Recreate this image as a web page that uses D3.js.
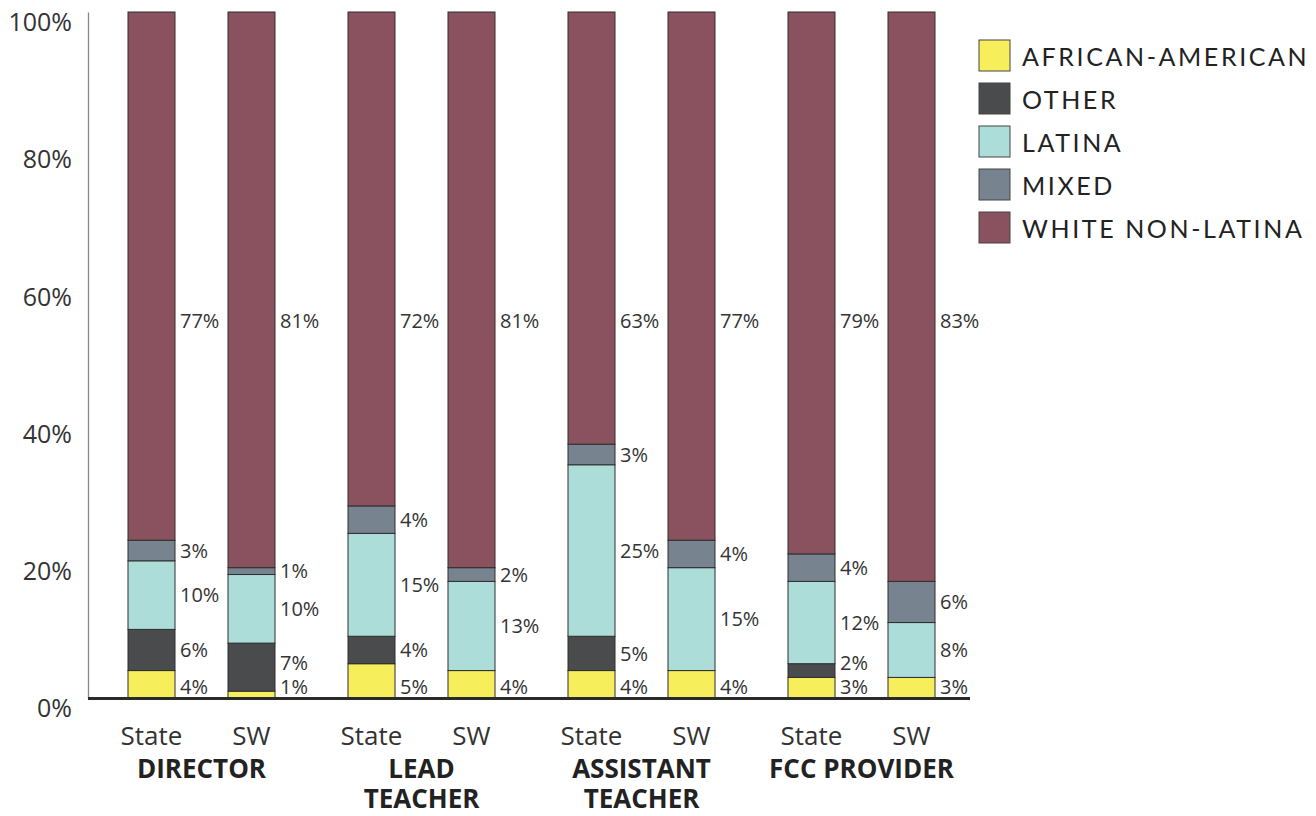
<!DOCTYPE html>
<html>
<head>
<meta charset="utf-8">
<script src="https://cdn.jsdelivr.net/npm/d3@7"></script>
<style>
  body { margin: 0; background: #fff; }
  svg { display: block; }
</style>
</head>
<body>
<svg id="chart"></svg>
<script>
// data
const groups = ['DIRECTOR', 'LEAD TEACHER', 'ASSISTANT TEACHER', 'FCC PROVIDER'];
const groupLines = [['DIRECTOR'], ['LEAD', 'TEACHER'], ['ASSISTANT', 'TEACHER'], ['FCC PROVIDER']];
const regions = ['State', 'SW'];
const races = ['AFRICAN-AMERICAN', 'OTHER', 'LATINA', 'MIXED', 'WHITE NON-LATINA'];
const raceColors = ['#f7ee5c', '#4a4b4d', '#acddd8', '#778490', '#89525e'];

// one entry per bar (State, SW for each group), values in the order of races
const africanAmerican = [4, 1, 5, 4, 4, 4, 3, 3];
const other           = [6, 7, 4, 0, 5, 0, 2, 0];
const latina          = [10, 10, 15, 13, 25, 15, 12, 8];
const mixed           = [3, 1, 4, 2, 3, 4, 4, 6];
const white           = [77, 81, 72, 81, 63, 77, 79, 83];
const yTicks = [0, 20, 40, 60, 80, 100];

const rows = [];
groups.forEach((g, gi) => {
    regions.forEach((r, ri) => {
        const i = gi * 2 + ri;
        rows.push({group: g, region: r,
            values: [africanAmerican[i], other[i], latina[i], mixed[i], white[i]]});
    });
});

const W = 1316, H = 816;
const svg = d3.select('#chart').attr('width', W).attr('height', H);

const y = d3.scaleLinear().domain([0, 100]).range([698, 12]);
const xGroup = d3.scaleBand().domain(groups).range([91.5, 971.5]);
const xInner = d3.scalePoint().domain(regions).range([0, xGroup.bandwidth()]).padding(0.6);
const barW = 47;
const color = d3.scaleOrdinal().domain(races).range(raceColors);

const textFont = "'Open Sans', 'Noto Sans', sans-serif";

// y axis: line and labels, no tick marks (labels sit a bit below their value)
const yAxis = svg.append('g')
    .attr('transform', 'translate(88,0)')
    .call(d3.axisLeft(y).tickValues(yTicks).tickFormat(d => d + '%').tickSize(0).tickPadding(16));
yAxis.select('.domain').attr('stroke', '#888').attr('stroke-width', 1.3);
yAxis.selectAll('text')
    .attr('font-family', textFont)
    .attr('font-size', 25)
    .attr('fill', '#333')
    .attr('dy', '0.75em');

// stacked bars
const bars = svg.append('g');
rows.forEach(row => {
    const cx = xGroup(row.group) + xInner(row.region);
    const x0 = cx - barW / 2;
    let cum = 0;
    const segs = row.values.map((v, k) => {
        const s = {race: races[k], v: v, lo: cum, hi: cum + v};
        cum += v;
        return s;
    });

    bars.selectAll(null)
        .data(segs.filter(s => s.v > 0))
        .enter().append('rect')
        .attr('x', x0)
        .attr('y', s => y(s.hi))
        .attr('width', barW)
        .attr('height', s => y(s.lo) - y(s.hi))
        .attr('fill', s => color(s.race))
        .attr('stroke', '#2e2e2e')
        .attr('stroke-width', 1);

    // value labels beside the bar, pushed apart where segments are thin
    let prev = null;
    segs.forEach((s, k) => {
        if (s.v <= 0) return;
        let ly;
        if (k === races.length - 1) {
            ly = y(55);
        } else if (prev === null) {
            ly = y(0) - 11;
        } else {
            ly = Math.min((y(s.lo) + y(s.hi)) / 2, prev - 24);
        }
        prev = ly;
        bars.append('text')
            .attr('x', x0 + barW + 5)
            .attr('y', ly)
            .attr('dy', '0.36em')
            .attr('font-family', textFont)
            .attr('font-size', 20)
            .attr('fill', '#333')
            .text(s.v + '%');
    });
});

// baseline
svg.append('line')
    .attr('x1', 88).attr('x2', 970)
    .attr('y1', y(0) + 0.5).attr('y2', y(0) + 0.5)
    .attr('stroke', '#2a2a2a')
    .attr('stroke-width', 3);

// category labels
const cats = svg.append('g');
groups.forEach((g, gi) => {
    regions.forEach(r => {
        cats.append('text')
            .attr('x', xGroup(g) + xInner(r))
            .attr('y', 745)
            .attr('text-anchor', 'middle')
            .attr('font-family', textFont)
            .attr('font-size', 26)
            .attr('fill', '#333')
            .text(r);
    });
    groupLines[gi].forEach((line, li) => {
        cats.append('text')
            .attr('x', xGroup(g) + xGroup.bandwidth() / 2)
            .attr('y', 778 + li * 30)
            .attr('text-anchor', 'middle')
            .attr('font-family', textFont)
            .attr('font-weight', 'bold')
            .attr('font-size', 26)
            .attr('fill', '#222')
            .text(line);
    });
});

// legend
const legend = svg.append('g').attr('transform', 'translate(979,40)');
const item = legend.selectAll('g')
    .data(races)
    .enter().append('g')
    .attr('transform', (d, i) => `translate(0,${i * 43})`);
item.append('rect')
    .attr('width', 31)
    .attr('height', 31)
    .attr('fill', d => color(d))
    .attr('stroke', '#444')
    .attr('stroke-width', 1);
item.append('text')
    .attr('x', 43)
    .attr('y', 17)
    .attr('dy', '0.36em')
    .attr('font-family', "Lato, 'Noto Sans', sans-serif")
    .attr('font-size', 25)
    .attr('letter-spacing', 2.6)
    .attr('fill', '#222')
    .text(d => d);
</script>
</body>
</html>
